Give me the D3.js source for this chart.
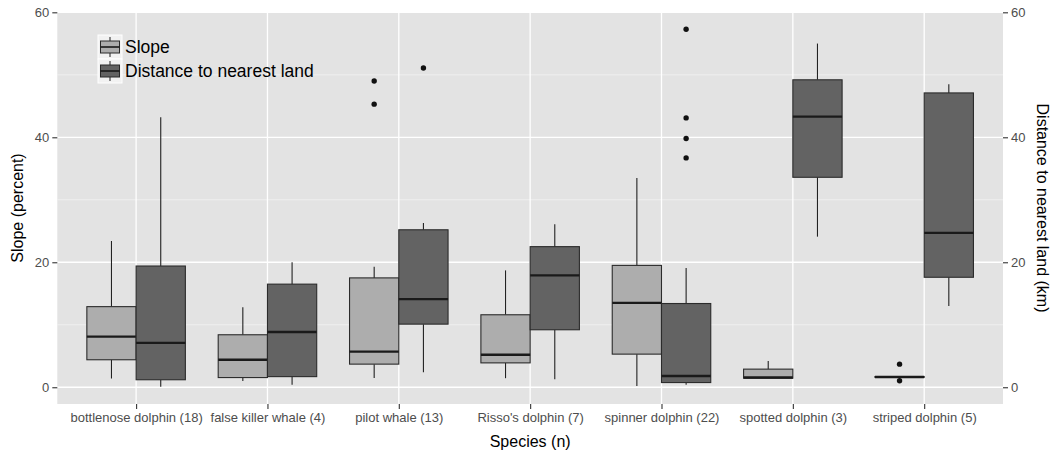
<!DOCTYPE html>
<html>
<head>
<meta charset="utf-8">
<script src="https://cdn.jsdelivr.net/npm/d3@7"></script>
<style>
body { margin:0; background:#fff; }
text { font-family: "Liberation Sans", Arial, Helvetica, sans-serif; }
</style>
</head>
<body>
<script>
// categories and series
var species = ["bottlenose dolphin (18)","false killer whale (4)","pilot whale (13)","Risso's dolphin (7)","spinner dolphin (22)","spotted dolphin (3)","striped dolphin (5)"];
var seriesNames = ["Slope","Distance to nearest land"];
var seriesFill = ["#adadad","#636363"];

// box stats per species: [lowWhisker, q1, median, q3, highWhisker]
var slopeStats = [
  [1.4, 4.4, 8.1, 12.9, 23.4],
  [1.0, 1.55, 4.4, 8.4, 12.8],
  [1.5, 3.7, 5.7, 17.5, 19.3],
  [1.45, 3.9, 5.2, 11.6, 18.7],
  [0.2, 5.3, 13.5, 19.5, 33.5],
  [1.45, 1.45, 1.55, 2.9, 4.2],
  [1.65, 1.6, 1.65, 1.7, 1.65]
];
var distStats = [
  [0.1, 1.2, 7.1, 19.4, 43.2],
  [0.4, 1.7, 8.85, 16.5, 20.0],
  [2.4, 10.1, 14.1, 25.2, 26.3],
  [1.3, 9.2, 17.9, 22.5, 26.1],
  [0.4, 0.75, 1.8, 13.4, 19.1],
  [24.1, 33.6, 43.3, 49.2, 55.0],
  [13.0, 17.6, 24.7, 47.1, 48.5]
];
var slopeOutliers = [[],[],[49.0,45.3],[],[],[],[3.7,1.05]];
var distOutliers = [[],[],[51.1],[],[57.3,43.1,39.8,36.7],[],[]];

var yTicks = [0,20,40,60];
var yMinor = [10,30,50];

var width = 1056, height = 452;
var margin = {left:57.3, right:53, top:12, bottom:48};
var pw = width - margin.left - margin.right;
var ph = height - margin.top - margin.bottom;

var svg = d3.select("body").append("svg").attr("width",width).attr("height",height);
var g = svg.append("g").attr("transform","translate("+margin.left+","+margin.top+")");

// category centres, with ggplot style expansion of 0.6 on each side
var xc = d3.scalePoint().domain(species).range([0.6*pw/7.2, pw-0.6*pw/7.2]);
var bw = xc.step()*0.75/2;
var xs = d3.scaleBand().domain(seriesNames).range([-bw, bw]);

var y = d3.scaleLinear().domain([-2.68,60.05]).range([ph,0]);

g.append("rect").attr("width",pw).attr("height",ph).attr("fill","#e3e3e3");

g.selectAll(".minor").data(yMinor).enter().append("line")
  .attr("x1",0).attr("x2",pw).attr("y1",d=>y(d)).attr("y2",d=>y(d))
  .attr("stroke","#f3f3f3").attr("stroke-width",0.7);
g.selectAll(".major").data(yTicks).enter().append("line")
  .attr("x1",0).attr("x2",pw).attr("y1",d=>y(d)).attr("y2",d=>y(d))
  .attr("stroke","#fff").attr("stroke-width",1.3);
g.selectAll(".vmajor").data(species).enter().append("line")
  .attr("x1",d=>xc(d)).attr("x2",d=>xc(d)).attr("y1",0).attr("y2",ph)
  .attr("stroke","#fff").attr("stroke-width",1.3);

function drawBoxes(stats, outs, si) {
  var s = seriesNames[si];
  stats.forEach(function(st,i){
    var cx = xc(species[i]) + xs(s) + xs.bandwidth()/2;
    var x0 = xc(species[i]) + xs(s);
    var bg = g.append("g");
    bg.append("line").attr("x1",cx).attr("x2",cx).attr("y1",y(st[4])).attr("y2",y(st[3]))
      .attr("stroke","#222").attr("stroke-width",1.1);
    bg.append("line").attr("x1",cx).attr("x2",cx).attr("y1",y(st[1])).attr("y2",y(st[0]))
      .attr("stroke","#222").attr("stroke-width",1.1);
    bg.append("rect").attr("x",x0).attr("width",xs.bandwidth())
      .attr("y",y(st[3])).attr("height",Math.max(0,y(st[1])-y(st[3])))
      .attr("fill",seriesFill[si]).attr("stroke","#2b2b2b").attr("stroke-width",1.1);
    bg.append("line").attr("x1",x0).attr("x2",x0+xs.bandwidth()).attr("y1",y(st[2])).attr("y2",y(st[2]))
      .attr("stroke","#1a1a1a").attr("stroke-width",2.4);
    outs[i].forEach(function(o){
      bg.append("circle").attr("cx",cx).attr("cy",y(o)).attr("r",2.7).attr("fill","#111");
    });
  });
}
drawBoxes(slopeStats, slopeOutliers, 0);
drawBoxes(distStats, distOutliers, 1);

// axes
var yAxisL = d3.axisLeft(y).tickValues(yTicks).tickSize(5).tickPadding(3);
var yAxisR = d3.axisRight(y).tickValues(yTicks).tickSize(5).tickPadding(3);
var xAxis = d3.axisBottom(xc).tickSize(5).tickPadding(4);

function styleAxis(sel){
  sel.select(".domain").remove();
  sel.selectAll(".tick line").attr("stroke","#333").attr("stroke-width",1.1);
  sel.selectAll(".tick text").attr("fill","#4d4d4d").style("font-size","13px");
}
g.append("g").call(yAxisL).call(styleAxis);
g.append("g").attr("transform","translate("+pw+",0)").call(yAxisR).call(styleAxis);
g.append("g").attr("transform","translate(0,"+ph+")").call(xAxis).call(styleAxis);

// titles
svg.append("text").attr("x",margin.left+pw/2).attr("y",447).attr("text-anchor","middle")
  .style("font-size","16px").attr("fill","#000").text("Species (n)");
svg.append("text").attr("transform","translate(23,"+(margin.top+ph/2)+") rotate(-90)")
  .attr("text-anchor","middle").style("font-size","16px").attr("fill","#000").text("Slope (percent)");
svg.append("text").attr("transform","translate(1037,"+(margin.top+ph/2)+") rotate(90)")
  .attr("text-anchor","middle").style("font-size","16px").attr("fill","#000").text("Distance to nearest land (km)");

// legend
var lg = svg.append("g").attr("transform","translate(98,35)");
seriesNames.forEach(function(s,i){
  var k = lg.append("g").attr("transform","translate(0,"+(i*24)+")");
  k.append("rect").attr("width",24).attr("height",24).attr("fill","#f2f2f2").attr("stroke","#fff").attr("stroke-width",1);
  k.append("line").attr("x1",12).attr("x2",12).attr("y1",2).attr("y2",22).attr("stroke","#222").attr("stroke-width",1);
  k.append("rect").attr("x",2.5).attr("y",6).attr("width",19).attr("height",12)
    .attr("fill",seriesFill[i]).attr("stroke","#2b2b2b").attr("stroke-width",1);
  k.append("line").attr("x1",2.5).attr("x2",21.5).attr("y1",12).attr("y2",12).attr("stroke","#1a1a1a").attr("stroke-width",1.6);
  k.append("text").attr("x",27).attr("y",12).attr("dy","0.35em").style("font-size","17.5px").attr("fill","#000").text(s);
});
</script>
</body>
</html>
